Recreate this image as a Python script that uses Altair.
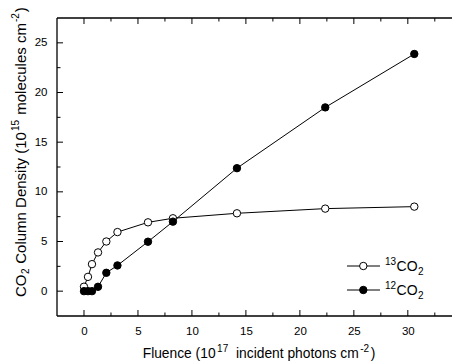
import altair as alt
import pandas as pd

# ---- data ----
fluence = [0, 0.37, 0.74, 1.3, 2.07, 3.1, 5.93, 8.24, 14.17, 22.35, 30.6]
co2_13 = [0.45, 1.44, 2.72, 3.9, 5.0, 5.95, 6.93, 7.34, 7.84, 8.31, 8.51]
co2_12 = [0, 0, 0, 0.44, 1.85, 2.59, 4.98, 7.0, 12.38, 18.5, 23.88]

x_major = [0, 5, 10, 15, 20, 25, 30]
x_minor = [2.5, 7.5, 12.5, 17.5, 22.5, 27.5, 32.5]
y_major = [0, 5, 10, 15, 20, 25]
y_minor = [2.5, 7.5, 12.5, 17.5, 22.5]

FONT = "Liberation Sans"
PADL, PADT = 57, 18
W, H = 394, 298
XDOM = [-2.5, 34.0]
YDOM = [-2.5, 27.5]

df13 = pd.DataFrame({"f": fluence, "v": co2_13})
df12 = pd.DataFrame({"f": fluence, "v": co2_12})

xs = alt.Scale(domain=XDOM, nice=False, zero=False)
ys = alt.Scale(domain=YDOM, nice=False, zero=False)

xaxis = alt.Axis(values=x_major, title=None, domain=False, ticks=False, grid=False,
                 labelFont=FONT, labelFontSize=11.5, labelColor="black", labelPadding=9,
                 format="d")
yaxis = alt.Axis(values=y_major, title=None, domain=False, ticks=False, grid=False,
                 labelFont=FONT, labelFontSize=11.5, labelColor="black", labelPadding=10,
                 format="d")


def X(field):
    return alt.X(field, scale=xs, axis=xaxis)


def Y(field):
    return alt.Y(field, scale=ys, axis=yaxis)


def series(df, filled):
    line = alt.Chart(df).mark_line(color="black", strokeWidth=1).encode(x=X("f:Q"), y=Y("v:Q"))
    pts = alt.Chart(df).mark_point(
        shape="circle", size=55, filled=True,
        fill="black" if filled else "white", stroke="black", strokeWidth=1, opacity=1
    ).encode(x=X("f:Q"), y=Y("v:Q"))
    return line, pts


l13, p13 = series(df13, False)
l12, p12 = series(df12, True)

# ---- frame ----
one = pd.DataFrame({"k": [0]})
frame = [
    alt.Chart(one).mark_rule(color="black", strokeWidth=1.3).encode(
        x=alt.value(0), y=alt.value(0), y2=alt.value(H)),
    alt.Chart(one).mark_rule(color="black", strokeWidth=1.3).encode(
        x=alt.value(0), x2=alt.value(W + 3), y=alt.value(0)),
    alt.Chart(one).mark_rule(color="black", strokeWidth=1.3).encode(
        x=alt.value(0), x2=alt.value(W + 3), y=alt.value(H)),
]

# ---- inward ticks ----
def xticks(vals, length):
    d = pd.DataFrame({"f": vals})
    bot = alt.Chart(d).mark_rule(color="black", strokeWidth=1).encode(
        x=X("f:Q"), y=alt.value(H), y2=alt.value(H - length))
    top = alt.Chart(d).mark_rule(color="black", strokeWidth=1).encode(
        x=X("f:Q"), y=alt.value(0), y2=alt.value(length))
    return [bot, top]


def yticks(vals, length):
    d = pd.DataFrame({"v": vals})
    return [alt.Chart(d).mark_rule(color="black", strokeWidth=1).encode(
        y=Y("v:Q"), x=alt.value(0), x2=alt.value(length))]


ticks = xticks(x_major, 6) + xticks(x_minor, 3.5) + yticks(y_major, 6) + yticks(y_minor, 3.5)

# ---- rich text helpers ----
ADV = {" ": 278, "(": 333, ")": 333, "-": 333, "C": 722, "O": 778, "D": 722, "F": 611,
       "a": 556, "c": 500, "d": 556, "e": 556, "h": 556, "i": 222, "l": 222, "m": 833,
       "n": 556, "o": 556, "p": 556, "s": 500, "t": 278, "u": 556, "y": 500}


def tw(s, size):
    return sum(ADV.get(c, 556) for c in s) * size / 1000.0


def txt(s, x, y, size, angle=0):
    return alt.Chart(one).mark_text(
        align="left", baseline="alphabetic", fontSize=size, font=FONT, angle=angle, color="black"
    ).encode(x=alt.value(x - PADL), y=alt.value(y - PADT), text=alt.value(s))


def rich(pieces, x0, y0, vertical=False):
    out = []
    pos = 0.0
    for s, size, shift, gap in pieces:
        pos += gap
        while s.startswith(" "):
            pos += tw(" ", size)
            s = s[1:]
        if vertical:
            out.append(txt(s, x0 - shift, y0 - pos, size, 270))
        else:
            out.append(txt(s, x0 + pos, y0 - shift, size))
        pos += tw(s, size)
    return out


ytitle = rich([("CO", 15, 0, 0), ("2", 10, -3.5, 0.5), (" Column Density (10", 15, 0, 0.5),
               ("15", 10, 6.5, 1), (" molecules cm", 15, 0, 1), ("-2", 10, 6.5, 1),
               (")", 15, 0, 1)], 25.5, 297, vertical=True)
xtitle = rich([("Fluence (10", 13.8, 0, 0), ("17", 10, 6, 1.5), (" incident photons cm", 13.8, 0, 4),
               ("-2", 10, 6, 1.5), (")", 13.8, 0, 1.5)], 142.7, 357.5)

# ---- legend ----
def legend_row(y, filled, iso):
    rule = alt.Chart(one).mark_rule(color="black", strokeWidth=1).encode(
        x=alt.value(347 - PADL), x2=alt.value(380 - PADL), y=alt.value(y - PADT))
    pt = alt.Chart(one).mark_point(
        shape="circle", size=55, filled=True, fill="black" if filled else "white",
        stroke="black", strokeWidth=1, opacity=1
    ).encode(x=alt.value(363.3 - PADL), y=alt.value(y - PADT))
    label = rich([(iso, 10, 6, 0), ("CO", 14, 0, 0.5), ("2", 10, -3.5, 0.3)], 385, y + 5.3)
    return [rule, pt] + label


legend = legend_row(266, False, "13") + legend_row(290, True, "12")

chart = alt.layer(
    l13, l12, *frame, *ticks, p13, p12, *ytitle, *xtitle, *legend
).properties(
    width=W, height=H,
    padding={"left": PADL, "top": PADT, "right": 1, "bottom": 361 - PADT - H},
    autosize=alt.AutoSizeParams(type="none"),
    background="white",
).configure_view(stroke=None)

chart.save("out.html", embed_options={"renderer": "svg", "actions": False})
